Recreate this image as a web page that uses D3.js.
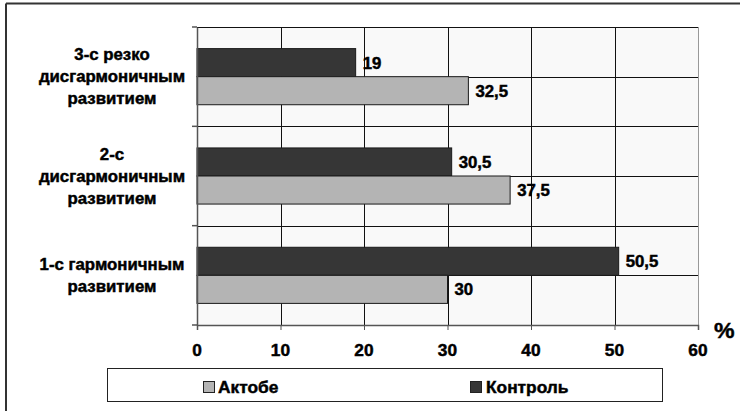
<!DOCTYPE html>
<html>
<head>
<meta charset="utf-8">
<script src="https://cdn.jsdelivr.net/npm/d3@7"></script>
<style>
  html, body { margin: 0; padding: 0; background: #fff; }
  svg { display: block; }
  text { font-family: "Liberation Sans", Arial, sans-serif; font-weight: bold; fill: #000;
         stroke: #000; stroke-width: 0.45px; }
</style>
</head>
<body>
<svg id="chart" width="740" height="411"></svg>
<script>
// Categories, top to bottom
const categories = ["3-с резко дисгармоничным развитием", "2-с дисгармоничным развитием", "1-с гармоничным развитием"];
const categoryLines = [
  ["3-с резко", "дисгармоничным", "развитием"],
  ["2-с", "дисгармоничным", "развитием"],
  ["1-с гармоничным", "развитием"]
];
const seriesNames = ["Контроль", "Актобе"];
const kontrolValues = [19, 30.5, 50.5];
const aktobeValues = [32.5, 37.5, 30];
const xTicks = [0, 10, 20, 30, 40, 50, 60];
const unitLabel = "%";

const colors = { "Контроль": "#363636", "Актобе": "#b4b4b4" };
const SX = 1.05; // horizontal stretch of the typeface

const svg = d3.select("#chart");

// outer frame (top and left edges)
svg.append("path").attr("d", "M6,3.5 H740 M6,3.5 V411")
  .attr("fill", "none").attr("stroke", "#333").attr("stroke-width", 2);

const x = d3.scaleLinear().domain([0, 60]).range([197, 698]);
const y = d3.scaleBand().domain(categories).range([27, 325]).paddingInner(0).paddingOuter(0);
const ySub = d3.scaleBand().domain(seriesNames).range([0, y.bandwidth()]).paddingInner(0).paddingOuter(0.77);

function stretchedText(g, tx, ty, str, size, anchor) {
  return g.append("text")
    .attr("transform", `translate(${tx},${ty}) scale(${SX},1)`)
    .attr("text-anchor", anchor || "start")
    .style("font-size", size + "px")
    .text(str);
}

// plot background
svg.append("rect")
  .attr("x", x(0)).attr("y", y.range()[0])
  .attr("width", x(60) - x(0)).attr("height", y.range()[1] - y.range()[0])
  .attr("fill", "#f9f9f9");

// horizontal grid lines at band edges and band centres
const hLines = [];
categories.forEach(c => { hLines.push(y(c)); hLines.push(y(c) + y.bandwidth() / 2); });
svg.append("g").selectAll("line").data(hLines).join("line")
  .attr("x1", x(0)).attr("x2", x(60))
  .attr("y1", d => Math.round(d) + 0.5).attr("y2", d => Math.round(d) + 0.5)
  .attr("stroke", "#111").attr("stroke-width", 1);

// vertical grid lines
svg.append("g").selectAll("line").data(xTicks.filter(t => t > 0 && t < 60)).join("line")
  .attr("x1", d => Math.round(x(d)) + 0.5).attr("x2", d => Math.round(x(d)) + 0.5)
  .attr("y1", y.range()[0]).attr("y2", y.range()[1])
  .attr("stroke", "#111").attr("stroke-width", 1);

// right edge of plot area
svg.append("line")
  .attr("x1", Math.round(x(60)) + 0.5).attr("x2", Math.round(x(60)) + 0.5)
  .attr("y1", y.range()[0]).attr("y2", y.range()[1])
  .attr("stroke", "#999").attr("stroke-width", 1);

// bars
const rows = categories.map((c, i) => ({ cat: c, values: [
  { name: "Контроль", v: kontrolValues[i] },
  { name: "Актобе", v: aktobeValues[i] }
]}));

const groups = svg.append("g").selectAll("g").data(rows).join("g")
  .attr("transform", d => `translate(0,${y(d.cat)})`);

groups.selectAll("rect").data(d => d.values).join("rect")
  .attr("x", x(0))
  .attr("y", d => ySub(d.name))
  .attr("width", d => x(d.v) - x(0))
  .attr("height", ySub.bandwidth())
  .attr("fill", d => colors[d.name])
  .attr("stroke", "#1a1a1a").attr("stroke-width", 1);

groups.each(function(d) {
  const g = d3.select(this);
  d.values.forEach(s => {
    stretchedText(g, x(s.v) + 7, ySub(s.name) + ySub.bandwidth() / 2 + 6,
      String(s.v).replace(".", ","), 16);
  });
});

// axes
const xAxis = d3.axisBottom(x).tickValues(xTicks).tickSize(5).tickFormat("");
const xg = svg.append("g").attr("transform", `translate(0,${y.range()[1]})`).call(xAxis);
xg.select(".domain").attr("stroke", "#555").attr("stroke-width", 1.5);
xg.selectAll(".tick line").attr("stroke", "#555");

xTicks.forEach(t => stretchedText(svg, x(t), 355.5, String(t), 16.5, "middle"));

const yAxis = d3.axisLeft(y).tickSize(0).tickFormat("");
const yg = svg.append("g").attr("transform", `translate(${x(0)},0)`).call(yAxis);
yg.select(".domain").attr("stroke", "#555").attr("stroke-width", 1.5);
// ticks at category boundaries
const bounds = categories.map(c => y(c)).concat([y.range()[1]]);
svg.append("g").selectAll("line").data(bounds).join("line")
  .attr("x1", x(0) - 5).attr("x2", x(0))
  .attr("y1", d => d).attr("y2", d => d)
  .attr("stroke", "#555").attr("stroke-width", 1.5);

// category labels
categories.forEach((c, i) => {
  const lines = categoryLines[i];
  const center = y(c) + y.bandwidth() / 2;
  const lh = 22;
  lines.forEach((ln, j) => {
    stretchedText(svg, 112, center + 5.5 - (lines.length - 1) / 2 * lh + j * lh, ln, 16, "middle");
  });
});

// unit label
stretchedText(svg, 714, 338, unitLabel, 22);

// legend
const legend = svg.append("g");
legend.append("rect").attr("x", 107.5).attr("y", 368.5).attr("width", 555).attr("height", 33)
  .attr("fill", "#fff").attr("stroke", "#222").attr("stroke-width", 1);
const legendItems = [
  { name: "Актобе", sx: 203, tx: 218 },
  { name: "Контроль", sx: 470, tx: 486 }
];
legendItems.forEach(it => {
  legend.append("rect").attr("x", it.sx + 0.5).attr("y", 381.5).attr("width", 11).attr("height", 11)
    .attr("fill", colors[it.name]).attr("stroke", "#222").attr("stroke-width", 1);
  stretchedText(legend, it.tx, 392.5, it.name, 16.5);
});
</script>
</body>
</html>
